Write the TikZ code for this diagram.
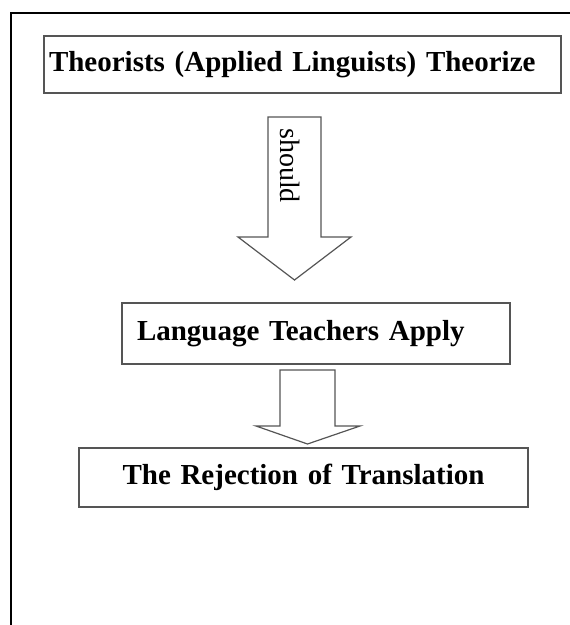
\documentclass[tikz,border=0pt]{standalone}
\usepackage{fontspec}
\setmainfont{Liberation Serif}
\usepackage{tikz}
\definecolor{boxgray}{RGB}{85,85,85}

\begin{document}
\begin{tikzpicture}[
    x=1pt, y=-1pt,
    box/.style=
        {draw=boxgray,line width=1.5pt,inner ysep=0pt,align=left,
         font=\bfseries\fontsize{29}{34}\selectfont},
    blockarrow/.style=
        {draw=boxgray,line width=1.2pt,line join=miter}]
    \useasboundingbox (0,0) rectangle (570,625);
    \draw [line width=2pt] (11,625) -- (11,13) -- (570,13);
    \node [box,text width=507pt,inner xsep=5pt,minimum height=57pt]
        (theory) at (302.5,64.5) {Theorists (Applied Linguists) Theorize};
    \node [box,text width=358pt,inner xsep=15pt,minimum height=61pt]
        (apply) at (316,333.5) {Language Teachers Apply};
    \node [box,text width=449pt,inner xsep=0pt,minimum height=59pt,align=center]
        (reject) at (303.5,477.5) {The Rejection of Translation};
    \coordinate (s1) at (294.5,117);
    \coordinate (t1) at (294.5,280);
    \coordinate (s2) at (307.5,370);
    \coordinate (t2) at (307.5,444);
    \draw [blockarrow] (s1) ++(-26.5,0) -- ++(0,120) -- ++(-30,0) -- (t1)
        -- ++(56.5,-43) -- ++(-30,0) -- ++(0,-120) -- cycle;
    \draw [blockarrow] (s2) ++(-27.5,0) -- ++(0,56) -- ++(-24,0) -- (t2)
        -- ++(52.5,-18) -- ++(-25,0) -- ++(0,-56) -- cycle;
    \node [font=\fontsize{28}{34}\selectfont,rotate=-90]
        (should) at (290,165.5) {should};
\end{tikzpicture}
\end{document}
